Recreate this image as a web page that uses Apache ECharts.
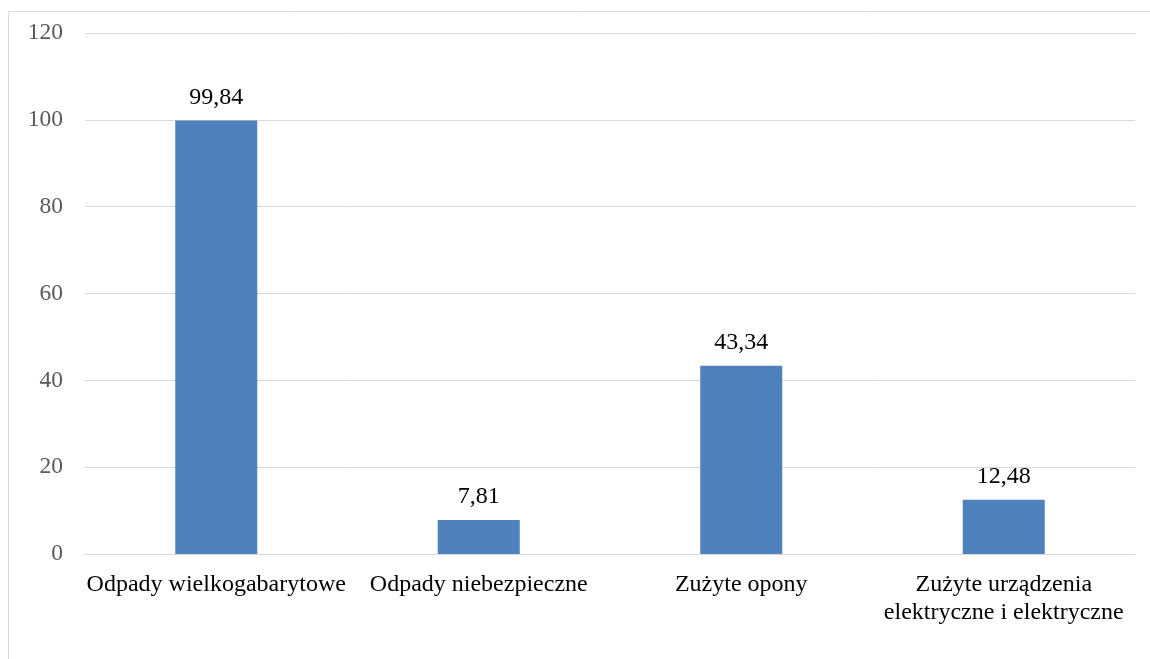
<!DOCTYPE html>
<html>
<head>
<meta charset="utf-8">
<script src="https://cdn.jsdelivr.net/npm/echarts@6/dist/echarts.min.js"></script>
<style>
  html, body { margin: 0; padding: 0; background: #fff; }
  #chart { width: 1150px; height: 659px; }
</style>
</head>
<body>
<div id="chart"></div>
<script>
const categories = [
  'Odpady wielkogabarytowe',
  'Odpady niebezpieczne',
  'Zużyte opony',
  'Zużyte urządzenia\nelektryczne i elektryczne'
];
const values = [99.84, 7.81, 43.34, 12.48];

const font = '"Liberation Serif", "DejaVu Serif", serif';
const myChart = echarts.init(document.getElementById('chart'));

const option = {
  animation: false,
  textStyle: { fontFamily: font },
  graphic: [{
    type: 'rect',
    shape: { x: 8.5, y: 11.5, width: 1200, height: 700 },
    style: { fill: 'none', stroke: '#d9d9d9', lineWidth: 1 },
    silent: true
  }],
  grid: { left: 85, right: 15, top: 33, bottom: 105 },
  xAxis: {
    type: 'category',
    data: categories,
    axisLine: { show: true, lineStyle: { color: '#d9d9d9', width: 1 } },
    axisTick: { show: false },
    axisLabel: {
      color: '#000',
      fontFamily: font,
      fontSize: 24,
      margin: 17,
      lineHeight: 28,
      interval: 0
    }
  },
  yAxis: {
    type: 'value',
    min: 0,
    max: 120,
    interval: 20,
    axisLine: { show: false },
    axisTick: { show: false },
    axisLabel: { color: '#595959', fontFamily: font, fontSize: 23.5, margin: 22 },
    splitLine: { lineStyle: { color: '#d9d9d9', width: 1 } }
  },
  series: [{
    type: 'bar',
    data: values,
    barWidth: 82,
    itemStyle: { color: '#4f81bd' },
    label: {
      show: true,
      position: 'top',
      distance: 11,
      color: '#000',
      fontFamily: font,
      fontSize: 24,
      formatter: (p) => p.value.toFixed(2).replace('.', ',')
    }
  }]
};

myChart.setOption(option);
window.onresize = function () {
  myChart.resize();
};
</script>
</body>
</html>
